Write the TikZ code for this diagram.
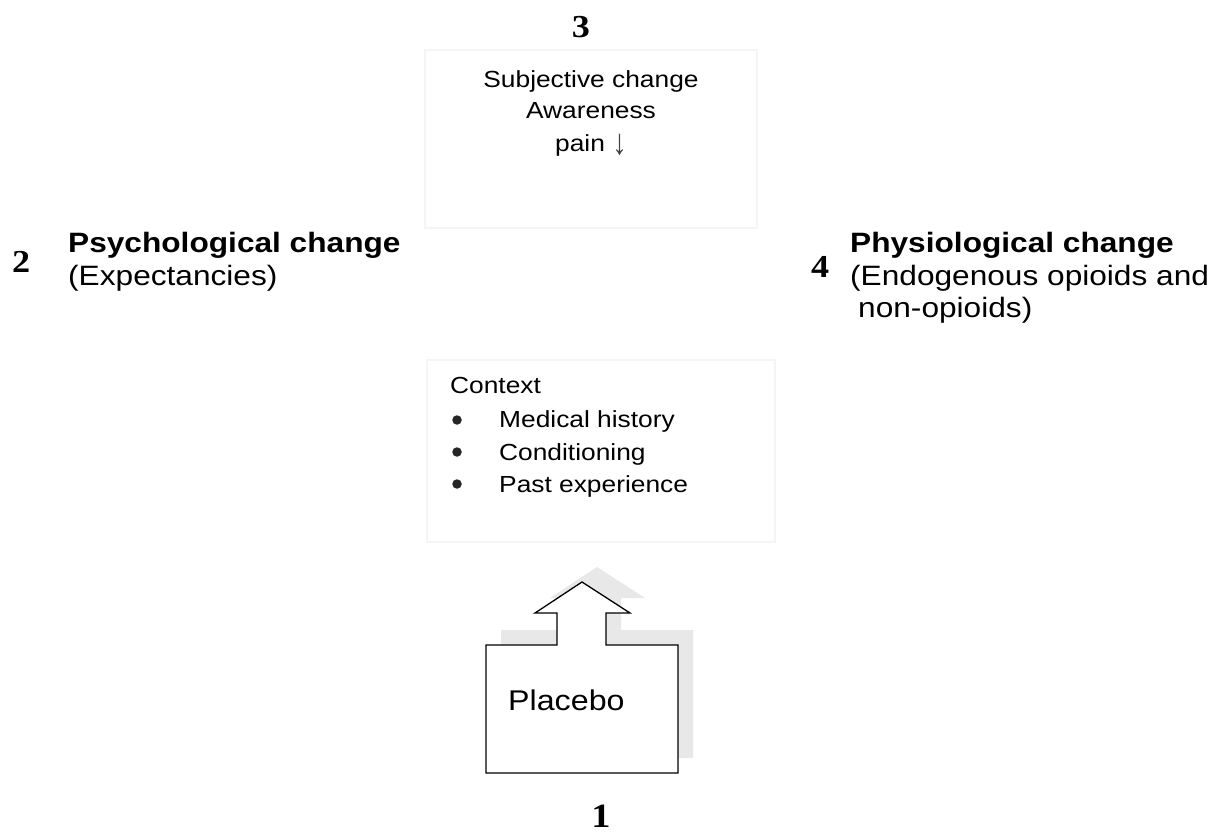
\documentclass[tikz,border=0pt]{standalone}
\usepackage{fontspec}
\setmainfont{Liberation Sans}[FakeStretch=1.13]
\newfontfamily\numfont{Liberation Serif}[FakeStretch=1.13]
\begin{document}
\begin{tikzpicture}[x=1pt,y=-1pt,
  txt/.style={inner sep=0pt,anchor=base west},
  ctr/.style={inner sep=0pt,anchor=base},
  head/.style={txt,font=\fontsize{28}{32}\selectfont\bfseries},
  sub/.style={txt,font=\fontsize{28}{32}\selectfont},
  small/.style={txt,font=\fontsize{23.3}{30}\selectfont},
  num/.style={inner sep=0pt,font=\fontsize{32}{34}\numfont\bfseries},
  bullet/.style={circle,fill=black!85,inner sep=0pt,minimum size=9.5pt},
  faintbox/.style={draw=gray!8,line width=1.2pt,fill=white}]
\useasboundingbox (0,0) rectangle (1218,834);
\fill[white] (0,0) rectangle (1218,834);

% top box
\draw[faintbox] (425,50) rectangle (757,228);
\node[num,anchor=base] (n3) at (581,38) {3};
\node[ctr,font=\fontsize{23.3}{30}\selectfont] (t1) at (591,88) {Subjective change};
\node[ctr,font=\fontsize{23.3}{30}\selectfont] (t2) at (591,119) {Awareness};
\node[ctr,font=\fontsize{23.3}{30}\selectfont] (t3) at (591,152) {pain \textcolor{black!75}{\raisebox{-3pt}{\scalebox{1.1}[1.55]{↓}}}};

% left heading
\node[num,anchor=base west] (n2) at (12,273) {2};
\node[head] (psy) at (68,253) {Psychological change};
\node[sub] (exp) at (68,286) {(Expectancies)};

% right heading
\node[num,anchor=base west] (n4) at (811,278) {4};
\node[head] (phy) at (850,253) {Physiological change};
\node[sub] (endo) at (850,286) {(Endogenous opioids and};
\node[sub] (nonop) at (858,317) {non-opioids)};

% context box
\draw[faintbox] (427,360) rectangle (775,542);
\node[small] (ctx) at (450,393) {Context};
\node[bullet] (b1) at (457,420) {};
\node[small] (c1) at (499,427) {Medical history};
\node[bullet] (b2) at (457,452) {};
\node[small] (c2) at (499,460) {Conditioning};
\node[bullet] (b3) at (457,484) {};
\node[small] (c3) at (499,492) {Past experience};

% placebo shape with shadow
\fill[gray!18,shift={(15,-15)}] (486,645) -- (557,645) -- (557,613) -- (535,613) -- (582,582) -- (630,613) -- (606,613) -- (606,645) -- (678,645) -- (678,773) -- (486,773) -- cycle;
\draw[fill=white,line width=1.3pt,line join=miter] (486,645) -- (557,645) -- (557,613) -- (535,613) -- (582,582) -- (630,613) -- (606,613) -- (606,645) -- (678,645) -- (678,773) -- (486,773) -- cycle;
\node[txt,font=\fontsize{28.5}{32}\selectfont] (plc) at (508,710) {Placebo};
\node[num,anchor=base,font=\fontsize{34}{36}\numfont\bfseries] (n1) at (601,827) {1};
\end{tikzpicture}
\end{document}
